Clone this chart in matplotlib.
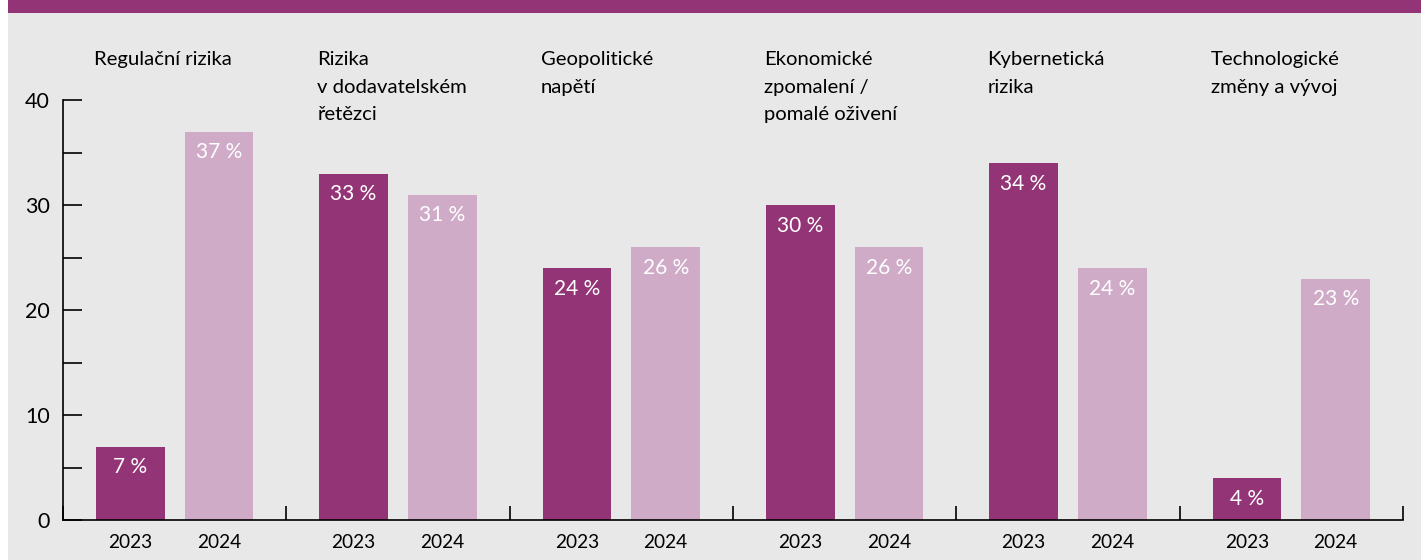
import numpy as np
import matplotlib
matplotlib.use("Agg")
import matplotlib.pyplot as plt
from matplotlib.patches import Rectangle

# data
categories = ["Regulační rizika",
              "Rizika\nv dodavatelském\nřetězci",
              "Geopolitické\nnapětí",
              "Ekonomické\nzpomalení /\npomalé oživení",
              "Kybernetická\nrizika",
              "Technologické\nzměny a vývoj"]
years = ["2023", "2024"]
values_2023 = [7, 33, 24, 30, 34, 4]
values_2024 = [37, 31, 26, 26, 24, 23]

dark = "#923475"
light = "#D0ABC8"
bg = "#E8E8E8"

plt.rcParams['font.family'] = ['Lato', 'DejaVu Sans']

fig = plt.figure(figsize=(14.21, 5.6), dpi=100)
fig.patch.set_facecolor(bg)
# white strip on the left and purple band on top
fig.patches.append(Rectangle((0, 0), 8 / 1421, 1, transform=fig.transFigure,
                             facecolor="white", edgecolor="none", zorder=0))
fig.patches.append(Rectangle((8 / 1421, 1 - 12.5 / 560), 1, 12.5 / 560,
                             transform=fig.transFigure, facecolor=dark,
                             edgecolor="none", zorder=0))

ax = fig.add_axes([63 / 1421, 40 / 560, 1340 / 1421, 0.75])
ax.set_facecolor(bg)

x = np.arange(len(categories))
off = 0.1987
w = 0.308
b1 = ax.bar(x - off, values_2023, width=w, color=dark)
b2 = ax.bar(x + off, values_2024, width=w, color=light)

for bars, vals in ((b1, values_2023), (b2, values_2024)):
    for rect, v in zip(bars, vals):
        ax.annotate(f"{v} %", (rect.get_x() + rect.get_width() / 2, v),
                    xytext=(0, -15), textcoords="offset points",
                    ha="center", va="center", color="white", fontsize=15)

# category titles, one text per line so the first baselines line up
line_step = 27.5 / 10.5
for i, cat in enumerate(categories):
    for j, line in enumerate(cat.split("\n")):
        ax.text(i - off - w / 2 - 0.008, 43.33 - j * line_step, line,
                ha="left", va="baseline", fontsize=14.6, clip_on=False)

ax.set_xlim(-0.5, len(categories) - 0.5)
ax.set_ylim(0, 40)

ax.set_yticks([0, 10, 20, 30, 40])
ax.set_yticks([5, 15, 25, 35], minor=True)
ax.tick_params(axis="y", which="both", direction="in", length=14, width=1.2,
               pad=9.5, labelsize=15.5)

xt = np.concatenate([x - off, x + off])
ax.set_xticks(xt)
ax.set_xticklabels([years[0]] * len(x) + [years[1]] * len(x))
ax.set_xticks(np.arange(len(categories) + 1) - 0.5, minor=True)
ax.tick_params(axis="x", which="major", length=0, pad=10, labelsize=13.8)
ax.tick_params(axis="x", which="minor", direction="in", length=10, width=1.2)

for s in ("top", "right"):
    ax.spines[s].set_visible(False)
ax.spines["left"].set_linewidth(1.2)
ax.spines["bottom"].set_linewidth(1.2)

fig.savefig("out.png", dpi=100, facecolor=bg)
